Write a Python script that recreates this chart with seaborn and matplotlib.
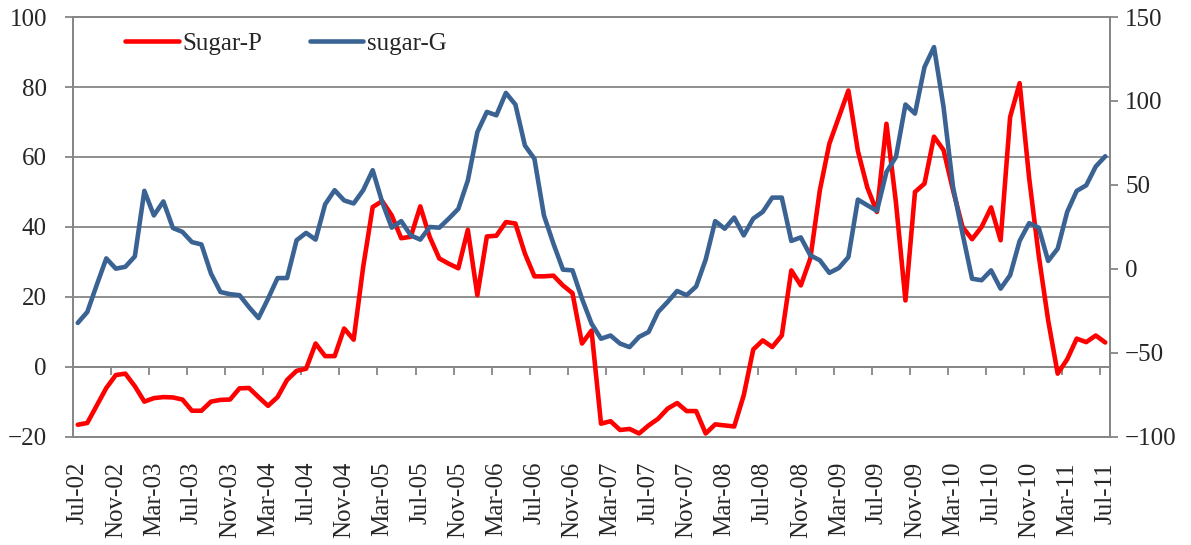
import matplotlib
matplotlib.use("Agg")
import matplotlib.pyplot as plt
import seaborn as sns
import pandas as pd

# ------------------------------------------------------------
# Dados (Jul-02 .. Jul-11, mensal)
# ------------------------------------------------------------
meses = pd.date_range("2002-07-01", "2011-07-01", freq="MS")

# Sugar-P (eixo esquerdo)
sugar_p = [
    -16.5, -16.0, -11.0, -6.0, -2.3, -1.9, -5.5, -9.9, -8.9, -8.6,
    -8.7, -9.3, -12.5, -12.5, -9.9, -9.4, -9.3, -6.1, -6.0, -8.6,
    -11.1, -8.6, -3.7, -1.1, -0.5, 6.7, 3.1, 3.1, 11.0, 7.8,
    28.6, 45.7, 47.4, 43.3, 36.8, 37.2, 45.9, 37.1, 31.0, 29.5,
    28.2, 39.2, 20.5, 37.3, 37.5, 41.4, 41.0, 32.4, 25.9, 25.9,
    26.1, 23.3, 21.1, 6.7, 10.4, -16.2, -15.5, -18.0, -17.7, -19.0,
    -16.7, -14.8, -11.9, -10.3, -12.6, -12.6, -19.0, -16.4, -16.7, -17.0,
    -8.1, 5.0, 7.6, 5.7, 9.0, 27.6, 23.3, 31.0, 50.5, 63.8,
    71.4, 79.0, 61.7, 51.2, 44.3, 69.5, 47.0, 19.0, 50.0, 52.4,
    65.8, 62.0, 50.5, 40.0, 36.5, 40.0, 45.6, 36.2, 71.4, 81.1,
    54.0, 32.0, 13.3, -1.9, 2.2, 8.1, 7.1, 9.0, 7.0,
]

# sugar-G (eixo direito)
sugar_g = [
    -32.1, -25.6, -9.4, 6.3, 0.2, 1.3, 7.5, 46.5, 31.9, 40.2,
    24.4, 22.1, 16.0, 14.6, -2.7, -13.7, -15.0, -15.6, -22.7, -29.2,
    -17.7, -5.4, -5.4, 17.1, 21.5, 17.5, 38.5, 46.9, 40.8, 39.0,
    46.9, 58.8, 39.8, 24.6, 28.5, 20.0, 17.5, 25.0, 24.6, 30.0,
    35.8, 52.7, 81.5, 93.5, 91.5, 104.8, 97.9, 73.5, 65.6, 31.9,
    15.0, -0.4, -0.8, -17.7, -32.5, -41.5, -39.6, -44.4, -46.5, -40.4,
    -37.5, -25.6, -19.6, -13.1, -15.6, -10.4, 5.6, 28.5, 24.0, 30.6,
    20.0, 30.0, 34.0, 42.5, 42.5, 16.7, 18.8, 8.1, 5.2, -2.3,
    0.6, 7.1, 41.3, 37.9, 34.6, 57.7, 66.7, 97.9, 92.5, 120.2,
    132.1, 96.5, 48.8, 21.0, -5.8, -6.7, -0.8, -11.7, -3.7, 16.7,
    27.3, 24.6, 4.8, 12.1, 34.0, 46.5, 49.8, 61.0, 67.1,
]

rotulos = [m.strftime("%b-%y") for m in meses]

df = pd.DataFrame({
    "idx": range(len(meses)),
    "Sugar-P": sugar_p,
    "sugar-G": sugar_g,
})

# ------------------------------------------------------------
# Estilo
# ------------------------------------------------------------
sns.set_style("white")
plt.rcParams["font.family"] = ["Liberation Serif", "DejaVu Serif"]
cinza = "#868686"
fs = 18

fig = plt.figure(figsize=(11.91, 5.45), dpi=100)
ax = fig.add_axes([0.0613, 0.1982, 0.8707, 0.7706])
ax2 = ax.twinx()

sns.lineplot(data=df, x="idx", y="Sugar-P", ax=ax, color="#ff0000", lw=3.3,
             label="Sugar-P", legend=False,
             solid_joinstyle="round", solid_capstyle="round")
sns.lineplot(data=df, x="idx", y="sugar-G", ax=ax2, color="#3a6394", lw=3.3,
             label="sugar-G", legend=False,
             solid_joinstyle="round", solid_capstyle="round")

# eixos
ax.set_xlim(-0.5, len(meses) - 0.5)
ax.set_ylim(-20, 100)
ax.set_yticks(range(-20, 101, 20))
ax2.set_ylim(-100, 150)
ax2.set_yticks(range(-100, 151, 50))

ax.set_xlabel("")
ax.set_ylabel("")
ax2.set_ylabel("")

ax.yaxis.grid(True, color=cinza, lw=1.3)
ax.set_axisbelow(True)

for a in (ax, ax2):
    for s in a.spines.values():
        s.set_color(cinza)
        s.set_linewidth(1.3)

pos = list(range(0, len(meses), 4))
ax.set_xticks(pos, [rotulos[i] for i in pos], rotation=90)
ax.tick_params(axis="x", length=0, pad=18, labelsize=fs)
ax.tick_params(axis="y", direction="out", length=5.8, width=1.3,
               color=cinza, pad=13, labelsize=fs, left=True)
ax2.tick_params(axis="y", direction="out", length=5.8, width=1.3,
                color=cinza, pad=5, labelsize=fs, right=True)

# linha do zero com as marcas entre categorias
sec = ax.secondary_xaxis(20 / 120)
sec.set_xticks([i - 0.5 for i in range(0, len(meses) + 1, 4)])
sec.tick_params(axis="x", direction="out", length=5.5, width=1.3,
                color=cinza, labelbottom=False, labeltop=False)
for s in sec.spines.values():
    s.set_color(cinza)
    s.set_linewidth(1.3)

# legenda
h1, l1 = ax.get_legend_handles_labels()
h2, l2 = ax2.get_legend_handles_labels()
ax2.legend(h1 + h2, l1 + l2, loc="center left", bbox_to_anchor=(0.05, 0.936),
           ncol=2, frameon=False, fontsize=fs, handlelength=2.15,
           handletextpad=0.15, columnspacing=1.9, borderpad=0, borderaxespad=0)

fig.savefig("out.png", dpi=100)
